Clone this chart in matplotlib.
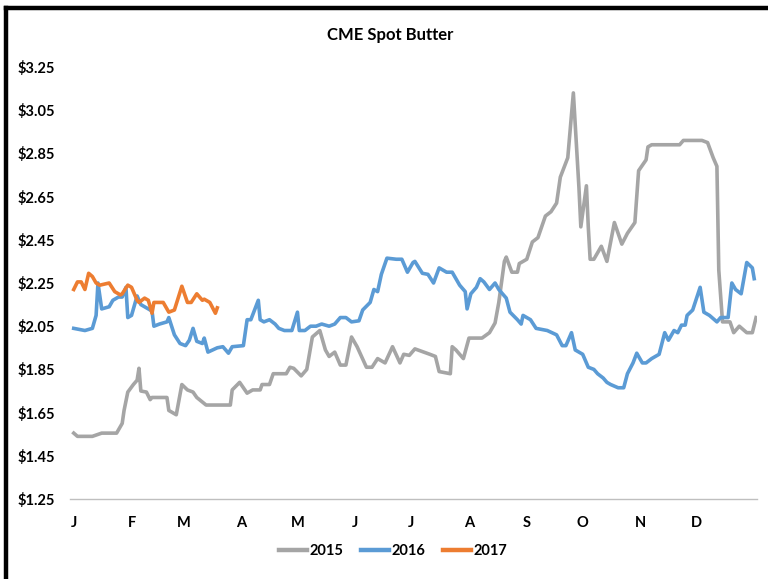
import numpy as np
import matplotlib
matplotlib.use('Agg')
import matplotlib.pyplot as plt
from matplotlib.lines import Line2D

plt.rcParams['font.family'] = ['Lato', 'DejaVu Sans']

# ── Data (day of year, $/lb) ─────────────────────────────────────────────
days_2015 = [0, 2, 10, 15, 23, 26, 27, 29, 32, 34, 35, 36, 39, 41, 42, 50, 51, 55, 58, 61,
             64, 66, 71, 84, 85, 89, 93, 96, 100, 101, 105, 107, 114, 116, 118, 122, 125, 128,
             132, 135, 137, 140, 143, 146, 149, 152, 157, 160, 163, 167, 171, 175, 177, 180,
             183, 191, 194, 196, 202, 203, 205, 209, 212, 219, 223, 226, 228, 231, 232, 235,
             238, 239, 243, 246, 249, 253, 256, 259, 261, 265, 268, 271, 272, 275, 276, 277,
             279, 283, 286, 290, 294, 297, 301, 302, 303, 307, 308, 310, 325, 327, 337, 340,
             343, 345, 346, 348, 352, 354, 357, 361, 364, 366]
price_2015 = [1.555, 1.54, 1.54, 1.555, 1.555, 1.60, 1.66, 1.745, 1.78, 1.80, 1.855, 1.75,
              1.745, 1.71, 1.72, 1.72, 1.66, 1.64, 1.78, 1.755, 1.745, 1.72, 1.685, 1.685,
              1.755, 1.79, 1.74, 1.755, 1.755, 1.78, 1.78, 1.83, 1.83, 1.86, 1.855, 1.82, 1.85,
              2.00, 2.03, 1.94, 1.91, 1.93, 1.87, 1.87, 2.00, 1.955, 1.86, 1.86, 1.90, 1.88,
              1.955, 1.88, 1.92, 1.915, 1.945, 1.92, 1.91, 1.84, 1.83, 1.955, 1.94, 1.90, 1.995,
              1.995, 2.02, 2.065, 2.16, 2.35, 2.37, 2.30, 2.30, 2.34, 2.36, 2.44, 2.46, 2.56,
              2.58, 2.62, 2.74, 2.83, 3.13, 2.69, 2.51, 2.70, 2.51, 2.36, 2.36, 2.42, 2.35, 2.53,
              2.43, 2.48, 2.53, 2.65, 2.77, 2.82, 2.88, 2.89, 2.89, 2.91, 2.91, 2.90, 2.83, 2.79,
              2.31, 2.07, 2.07, 2.02, 2.05, 2.02, 2.02, 2.09]

days_2016 = [0, 6, 10, 12, 13, 15, 19, 21, 24, 26, 28, 29, 31, 34, 36, 39, 42, 43, 46, 50,
             51, 54, 57, 60, 62, 64, 66, 69, 70, 72, 77, 80, 83, 85, 91, 93, 95, 99, 100, 102,
             105, 108, 110, 113, 117, 120, 121, 124, 127, 130, 133, 137, 140, 143, 146, 149,
             153, 155, 159, 161, 163, 165, 167, 168, 173, 176, 177, 179, 182, 183, 187, 190,
             193, 196, 200, 203, 207, 210, 211, 213, 216, 218, 220, 223, 226, 228, 232, 234,
             238, 240, 241, 245, 248, 254, 259, 262, 264, 267, 269, 273, 276, 279, 281, 284,
             286, 288, 292, 295, 297, 300, 302, 305, 307, 310, 314, 317, 319, 322, 324, 326,
             328, 329, 332, 336, 338, 341, 345, 347, 351, 353, 355, 358, 361, 364, 365]
price_2016 = [2.04, 2.03, 2.04, 2.10, 2.25, 2.13, 2.14, 2.17, 2.185, 2.185, 2.23, 2.09, 2.10,
              2.19, 2.15, 2.135, 2.12, 2.05, 2.06, 2.07, 2.09, 2.01, 1.97, 1.96, 1.985, 2.04,
              1.98, 1.97, 1.995, 1.93, 1.95, 1.955, 1.925, 1.955, 1.96, 2.08, 2.08, 2.17, 2.08,
              2.07, 2.08, 2.06, 2.04, 2.03, 2.03, 2.115, 2.03, 2.03, 2.05, 2.05, 2.06, 2.05,
              2.06, 2.09, 2.09, 2.07, 2.075, 2.125, 2.16, 2.22, 2.21, 2.29, 2.34, 2.365, 2.36,
              2.36, 2.34, 2.30, 2.345, 2.35, 2.295, 2.29, 2.25, 2.32, 2.30, 2.30, 2.24, 2.21,
              2.13, 2.20, 2.23, 2.27, 2.255, 2.22, 2.25, 2.22, 2.18, 2.115, 2.08, 2.06, 2.10,
              2.08, 2.04, 2.03, 2.01, 1.96, 1.96, 2.02, 1.94, 1.92, 1.86, 1.85, 1.83, 1.81,
              1.79, 1.78, 1.765, 1.765, 1.83, 1.88, 1.925, 1.88, 1.88, 1.90, 1.92, 2.02, 1.985,
              2.03, 2.02, 2.055, 2.055, 2.10, 2.125, 2.23, 2.115, 2.10, 2.07, 2.09, 2.09, 2.25,
              2.22, 2.20, 2.345, 2.32, 2.27]

days_2017 = [0, 2, 4, 6, 8, 10, 12, 14, 19, 22, 25, 26, 29, 31, 34, 35, 38, 40, 42, 43, 48,
             51, 54, 56, 58, 61, 63, 66, 69, 70, 73, 76, 77]
price_2017 = [2.22, 2.255, 2.255, 2.22, 2.295, 2.28, 2.25, 2.24, 2.25, 2.21, 2.195, 2.20,
              2.24, 2.23, 2.17, 2.16, 2.18, 2.17, 2.11, 2.16, 2.16, 2.115, 2.125, 2.18, 2.235,
              2.16, 2.16, 2.20, 2.17, 2.175, 2.16, 2.11, 2.135]

month_starts = [0, 31, 59, 90, 120, 151, 181, 212, 243, 273, 304, 334]
month_labels = ['J', 'F', 'M', 'A', 'M', 'J', 'J', 'A', 'S', 'O', 'N', 'D']
y_ticks = [1.25, 1.45, 1.65, 1.85, 2.05, 2.25, 2.45, 2.65, 2.85, 3.05, 3.25]

series = [
    ('2015', days_2015, price_2015, '#A5A5A5'),
    ('2016', days_2016, price_2016, '#5B9BD5'),
    ('2017', days_2017, price_2017, '#ED7D31'),
]

# ── Figure ────────────────────────────────────────────────────────────────
W, H = 768, 579
fig = plt.figure(figsize=(W / 100, H / 100), dpi=100)
ax = fig.add_axes([70 / W, 1 - 499 / H, 687 / W, 432 / H])

for name, d, p, c in series:
    ax.plot(d, p, color=c, lw=2.6, label=name, solid_joinstyle='round')

ax.set_xlim(-2, 366.5)
ax.set_ylim(1.25, 3.25)
ax.set_yticks(y_ticks)
ax.set_yticklabels([f"${v:.2f}" for v in y_ticks], fontsize=10.5, fontweight='bold')
ax.set_xticks(month_starts)
ax.set_xticklabels(month_labels, fontsize=10.5, fontweight='bold')
ax.tick_params(axis='y', length=0, pad=11)
ax.tick_params(axis='x', length=0, pad=12)

for s in ['top', 'right', 'left']:
    ax.spines[s].set_visible(False)
ax.spines['bottom'].set_color('#BFBFBF')
ax.spines['bottom'].set_linewidth(1.0)

fig.text(390 / W, 1 - 35 / H, 'CME Spot Butter', ha='center', va='center',
         fontsize=12, fontweight='bold')

handles = [Line2D([], [], color=c, lw=3.2) for _, _, _, c in series]
fig.legend(handles, [s[0] for s in series], loc='center', ncol=3,
           bbox_to_anchor=(393 / W, 1 - 551 / H), frameon=False,
           handlelength=1.9, handletextpad=0.2, columnspacing=1.2,
           prop={'weight': 'bold', 'size': 10.5})

# black frame of the original screenshot (only left and top edges visible)
fx, fy = 5.5 / W, 1 - 8 / H
fig.add_artist(Line2D([fx, fx], [0, fy], transform=fig.transFigure,
                      color='black', lw=3.2, solid_capstyle='projecting'))
fig.add_artist(Line2D([fx, 1], [fy, fy], transform=fig.transFigure,
                      color='black', lw=3.2, solid_capstyle='projecting'))

fig.savefig('out.png', dpi=100)
